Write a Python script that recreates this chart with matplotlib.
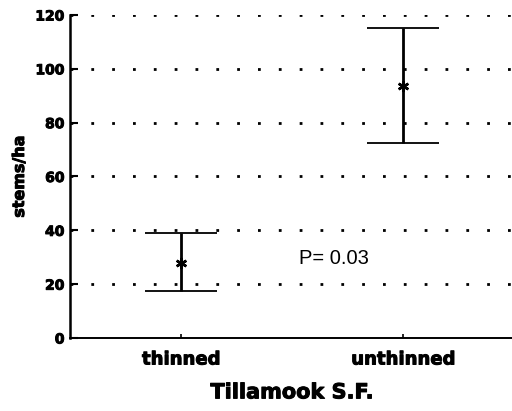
import numpy as np
import matplotlib
matplotlib.use('Agg')
from matplotlib import pyplot as plt
import matplotlib.patheffects as pe

# stand density by treatment
groups = ['thinned', 'unthinned']
means = [28, 93.5]
upper = [39, 115]
lower = [17.5, 72.5]
p_label = 'P= 0.03'

pos = np.arange(1, len(groups) + 1)
err = [np.array(means) - np.array(lower), np.array(upper) - np.array(means)]

# heavy lettering for labels
heavy = [pe.withStroke(linewidth=0.7, foreground='black')]

fig = plt.figure(figsize=(5.12, 4.11), dpi=100)
ax = fig.add_axes([70 / 512, 73 / 411, 444 / 512, 323 / 411])

# dotted reference lines behind the bars
for y in [20, 40, 60, 80, 100, 120]:
    ax.axhline(y, color='black', linewidth=2.0, linestyle=(0, (1, 6.5)), zorder=0)

ax.errorbar(pos, means, yerr=err, fmt='none', ecolor='black',
            elinewidth=2.0, capsize=36 * 0.72, capthick=1.3, zorder=3)
ax.plot(pos, means, linestyle='none', marker=(6, 2, 0), markersize=8,
        markeredgewidth=1.8, color='black', zorder=4)

ax.text(1.53, 29.5, p_label, fontsize=14.5, family='Liberation Sans',
        va='center', ha='left')

ax.set_xlim(0.5, 2.5)
ax.set_ylim(0, 120)
ax.set_xticks(pos)
ax.set_xticklabels(groups, fontsize=13, fontweight='bold')
ax.set_yticks([0, 20, 40, 60, 80, 100, 120])
ax.tick_params(axis='y', direction='in', length=6, width=1.5, labelsize=10, pad=4)
ax.tick_params(axis='x', direction='in', length=3, width=1.2, pad=9)
for lab in ax.get_yticklabels() + ax.get_xticklabels():
    lab.set_fontweight('bold')
    lab.set_path_effects(heavy)

for side in ['top', 'right']:
    ax.spines[side].set_visible(False)
ax.spines['left'].set_linewidth(1.8)
ax.spines['bottom'].set_linewidth(1.4)

ax.set_ylabel('stems/ha', fontsize=11.5, fontweight='bold', labelpad=6,
              path_effects=heavy)
ax.set_xlabel('Tillamook S.F.', fontsize=15, fontweight='bold', labelpad=10,
              path_effects=heavy)

fig.savefig('out.png', dpi=100)
